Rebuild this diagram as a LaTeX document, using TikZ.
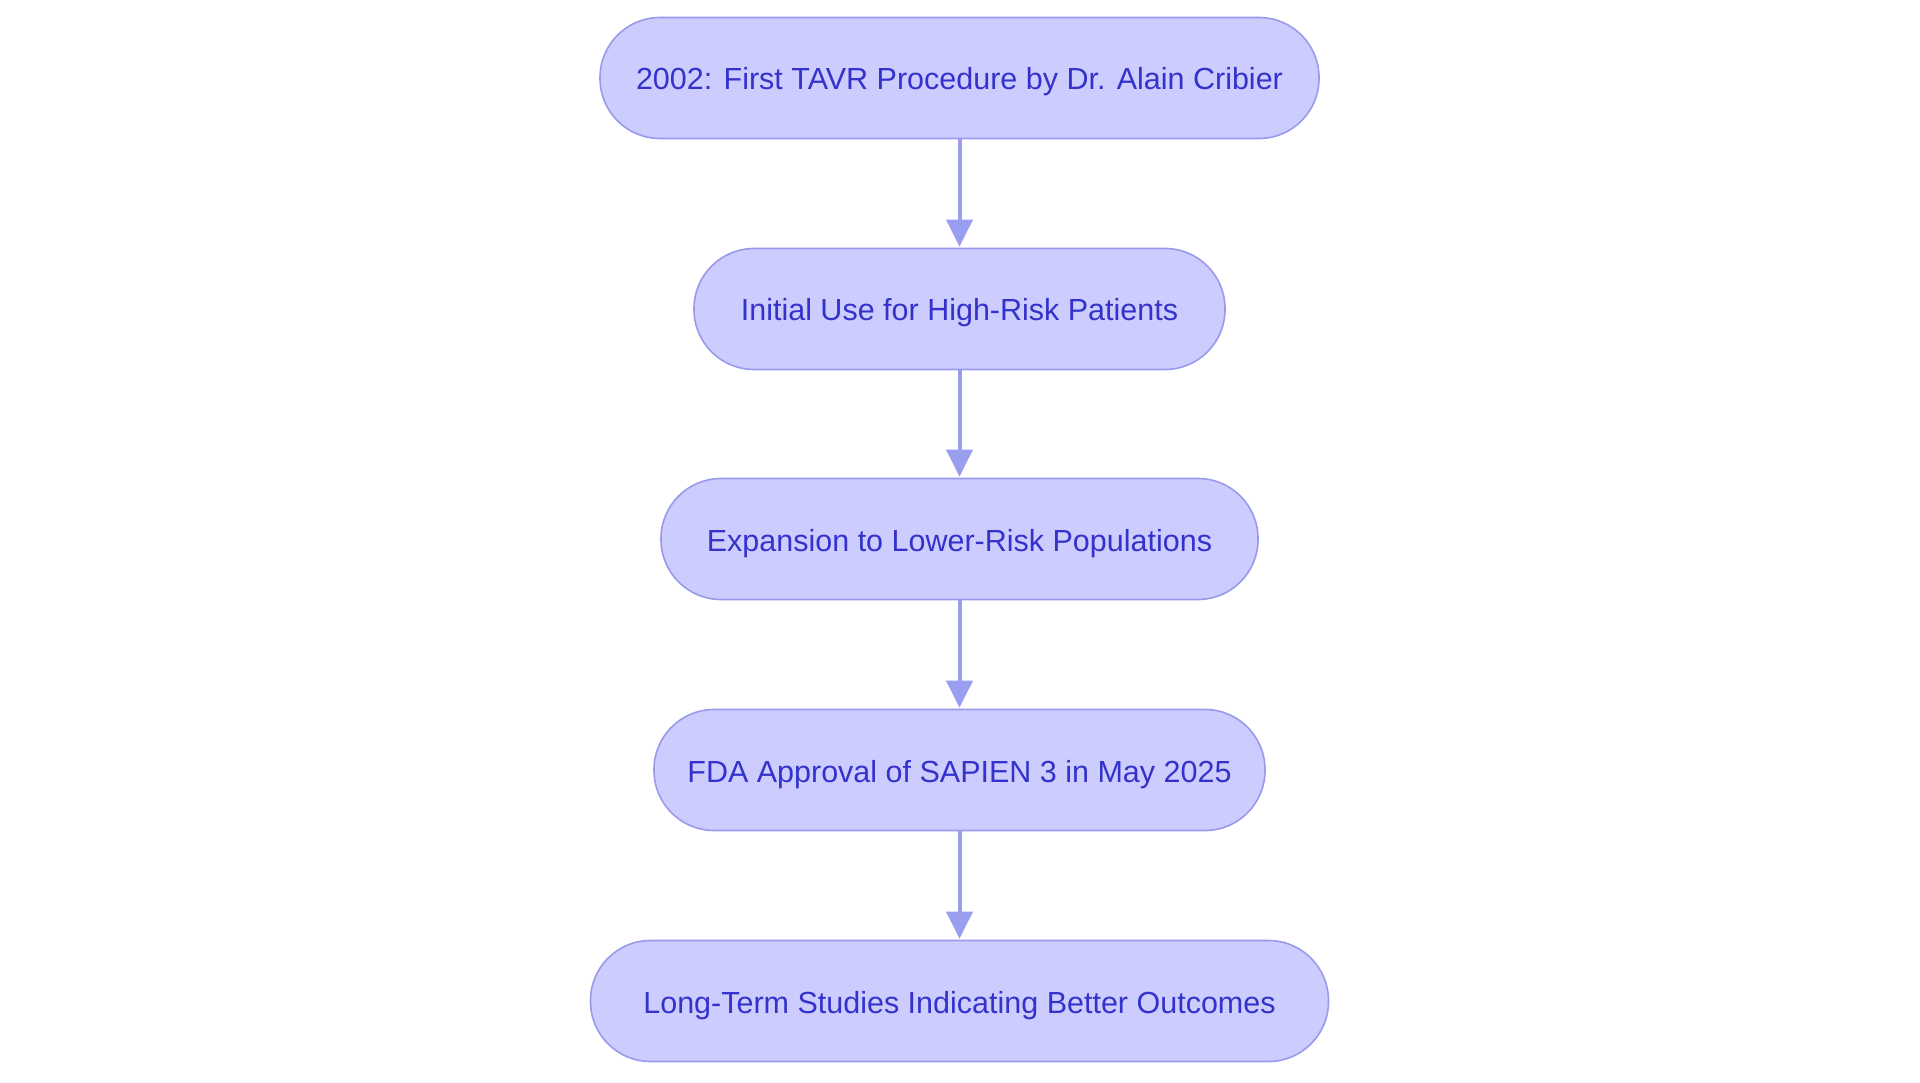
\documentclass[tikz,border=0pt]{standalone}
\usepackage{fontspec}
\setmainfont{Liberation Sans}
\usetikzlibrary{arrows.meta}
\definecolor{nodefill}{RGB}{204,204,255}
\definecolor{nodeline}{RGB}{153,153,238}
\definecolor{nodetext}{RGB}{51,51,204}
\definecolor{arrowcol}{RGB}{153,158,240}
\tikzset{
  stage/.style={draw=nodeline, line width=1.6pt, fill=nodefill, text=nodetext,
    rounded corners=60pt, minimum height=121pt, inner xsep=20pt,
    text height=24pt, text depth=0pt,
    font=\fontsize{30.5}{36}\selectfont},
  flow/.style={draw=arrowcol, line width=4pt, -{Triangle[length=27pt,width=26pt]}, shorten >=1pt}
}
\begin{document}
\begin{tikzpicture}[x=1pt,y=-1pt]
\useasboundingbox (0,0) rectangle (1920,1083);
\node[stage, minimum width=719pt] (n1) at (959.5,78) {2002: First TAVR Procedure by Dr. Alain Cribier};
\node[stage, minimum width=531pt] (n2) at (959.5,309) {Initial Use for High-Risk Patients};
\node[stage, minimum width=597pt] (n3) at (959.5,539) {Expansion to Lower-Risk Populations};
\node[stage, minimum width=611pt] (n4) at (959.5,770) {FDA Approval of SAPIEN 3 in May 2025};
\node[stage, minimum width=738pt] (n5) at (959.5,1001) {Long-Term Studies Indicating Better Outcomes};
\draw[flow] (n1) -- (n2);
\draw[flow] (n2) -- (n3);
\draw[flow] (n3) -- (n4);
\draw[flow] (n4) -- (n5);
\end{tikzpicture}
\end{document}
